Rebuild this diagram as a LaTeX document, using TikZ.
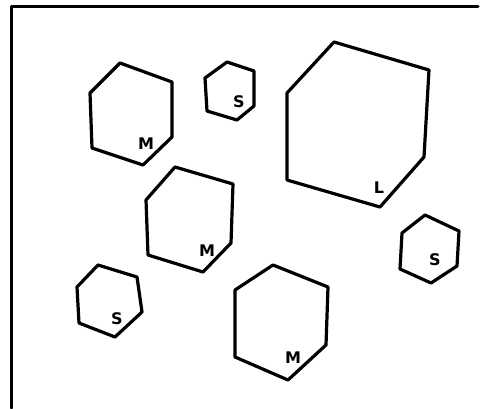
\documentclass[tikz,border=0pt]{standalone}
\usepackage{fontspec}
\setsansfont{DejaVu Sans}
\usetikzlibrary{positioning}
\tikzset{
  every picture/.style={line width=3.2pt, line join=round, line cap=round},
  frame/.style={draw=black, line width=3pt},
  hexa/.style={draw=black, line width=3.2pt},
  size/.style={font=\sffamily\bfseries\fontsize{16}{16}\selectfont, inner sep=0pt},
}
\begin{document}
\begin{tikzpicture}[x=1pt, y=-1pt]
  \useasboundingbox (0,0) rectangle (492,408);

  % ---- frame (top and left only)
  \draw[frame] (11,408) -- (11,6) -- (478,6);

  % ---- medium, top left
  \draw[hexa] (120,63) -- (172,82) -- (172,137) -- (143,165) -- (92,148) -- (90,93) -- cycle;
  \node[size] (m1) at (146,144) {M};

  % ---- small, top
  \draw[hexa] (227,62) -- (254,71) -- (254,106) -- (237,120) -- (207,111) -- (205,78) -- cycle;
  \node[size] (s1) at (239,102) {S};

  % ---- large
  \draw[hexa] (334,42) -- (429,70) -- (424,157) -- (380,207) -- (287,180) -- (287,93) -- cycle;
  \node[size] (l) at (379,188) {L};

  % ---- medium, centre
  \draw[hexa] (175,167) -- (233,184) -- (231,243) -- (203,272) -- (148,255) -- (146,200) -- cycle;
  \node[size] (m2) at (207,251) {M};

  % ---- small, bottom left
  \draw[hexa] (98,265) -- (137,277) -- (142,312) -- (115,337) -- (79,323) -- (77,287) -- cycle;
  \node[size] (s2) at (117,319) {S};

  % ---- small, right
  \draw[hexa] (425,215) -- (459,231) -- (457,266) -- (431,283) -- (400,269) -- (402,233) -- cycle;
  \node[size] (s3) at (435,260) {S};

  % ---- medium, bottom
  \draw[hexa] (273,265) -- (328,287) -- (326,345) -- (288,380) -- (235,357) -- (235,290) -- cycle;
  \node[size] (m3) at (293,358) {M};
\end{tikzpicture}
\end{document}
